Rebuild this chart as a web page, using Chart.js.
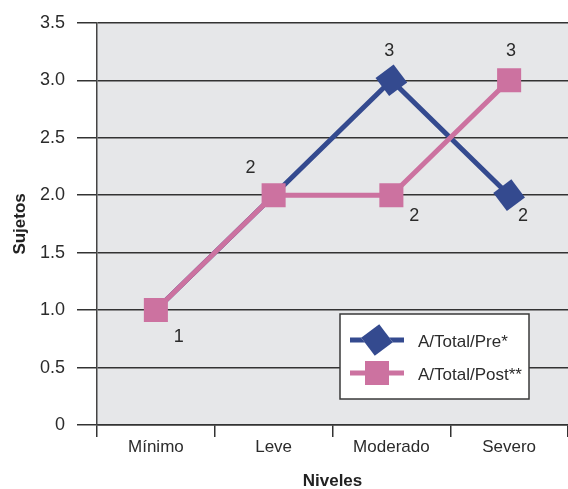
<!DOCTYPE html>
<html>
<head>
<meta charset="utf-8">
<style>
  html, body { margin: 0; padding: 0; background: #ffffff; }
  #wrap { width: 568px; height: 489px; position: relative; }
</style>
<script src="https://cdn.jsdelivr.net/npm/chart.js@4.4.1/dist/chart.umd.min.js"></script>
</head>
<body>
<div id="wrap"><canvas id="chart" width="568" height="489"></canvas></div>
<script>
// Subjects per severity level, before and after
const categories = ['Mínimo', 'Leve', 'Moderado', 'Severo'];
const preValues = [1, 2, 3, 2];
const postValues = [1, 2, 2, 3];
const seriesNames = ['A/Total/Pre*', 'A/Total/Post**'];
const yTickLabels = ['0', '0.5', '1.0', '1.5', '2.0', '2.5', '3.0', '3.5'];

// Value label placement (pixel offsets from each point; null = no label)
const preLabelOffsets = [[23, 27], [-23, -27], [-2, -29], [14, 21]];
const postLabelOffsets = [null, null, [23, 21], [2, -29]];

const FONT = "'Liberation Sans', Arial, sans-serif";
const BLUE = '#344a8f';
const PINK = '#cc72a0';
const INK = '#2b2b2b';
const GRID = '#333333';
const DIAMOND_R = 16;
const SQUARE_R = 17;

const plotBackground = {
  id: 'plotBackground',
  beforeDraw(chart) {
    const { ctx, chartArea: a } = chart;
    ctx.save();
    ctx.fillStyle = '#e6e7e9';
    ctx.fillRect(a.left, a.top, a.right - a.left, a.bottom - a.top);
    ctx.restore();
  }
};

const valueLabels = {
  id: 'valueLabels',
  afterDatasetsDraw(chart) {
    const { ctx } = chart;
    const offsets = [preLabelOffsets, postLabelOffsets];
    ctx.save();
    ctx.font = '18px ' + FONT;
    ctx.fillStyle = INK;
    ctx.textAlign = 'center';
    ctx.textBaseline = 'middle';
    chart.data.datasets.forEach((ds, di) => {
      const meta = chart.getDatasetMeta(di);
      meta.data.forEach((pt, i) => {
        const off = offsets[di][i];
        if (!off) return;
        ctx.fillText(String(ds.data[i]), pt.x + off[0], pt.y + off[1]);
      });
    });
    ctx.restore();
  }
};

const legendMarkers = [
  { style: 'rectRot', radius: DIAMOND_R, rotation: 8 },
  { style: 'rect', radius: SQUARE_R, rotation: 0 }
];

const boxedLegend = {
  id: 'boxedLegend',
  afterDraw(chart) {
    const { ctx, chartArea: a } = chart;
    const w = 189, h = 85;
    const x = a.right - 39 - w;
    const y = a.bottom - 26 - h;
    ctx.save();
    ctx.fillStyle = '#ffffff';
    ctx.fillRect(x, y, w, h);
    ctx.strokeStyle = '#3a3a3a';
    ctx.lineWidth = 1.5;
    ctx.strokeRect(x, y, w, h);
    const rows = [y + 26, y + 59];
    chart.data.datasets.forEach((ds, di) => {
      const cy = rows[di];
      const lx = x + 10, lw = 54, cx = lx + lw / 2;
      const m = legendMarkers[di];
      ctx.strokeStyle = ds.borderColor;
      ctx.lineWidth = ds.borderWidth;
      ctx.beginPath();
      ctx.moveTo(lx, cy);
      ctx.lineTo(lx + lw, cy);
      ctx.stroke();
      Chart.helpers.drawPoint(ctx, {
        pointStyle: m.style,
        radius: m.radius,
        rotation: m.rotation,
        borderWidth: 0
      }, cx, cy);
      ctx.fillStyle = ds.backgroundColor;
      ctx.fill();
      ctx.fillStyle = INK;
      ctx.font = '17px ' + FONT;
      ctx.textAlign = 'left';
      ctx.textBaseline = 'middle';
      ctx.fillText(seriesNames[di], x + 78, cy + 2);
    });
    ctx.restore();
  }
};

new Chart(document.getElementById('chart'), {
  type: 'line',
  data: {
    labels: categories,
    datasets: [
      {
        label: seriesNames[0],
        data: preValues,
        borderColor: BLUE,
        backgroundColor: BLUE,
        borderWidth: 5,
        pointStyle: 'rectRot',
        // where both series share a value the square sits on top, so the diamond is left out
        pointRadius: (c) => (preValues[c.dataIndex] === postValues[c.dataIndex] ? 0 : DIAMOND_R),
        pointRotation: 8,
        pointBorderWidth: 0,
        order: 2
      },
      {
        label: seriesNames[1],
        data: postValues,
        borderColor: PINK,
        backgroundColor: PINK,
        borderWidth: 5,
        pointStyle: 'rect',
        pointRadius: SQUARE_R,
        pointBorderWidth: 0,
        order: 1
      }
    ]
  },
  options: {
    responsive: false,
    animation: false,
    events: [],
    layout: { autoPadding: false, padding: { top: 20, right: 0, left: 0, bottom: 0 } },
    plugins: {
      legend: { display: false },
      tooltip: { enabled: false }
    },
    scales: {
      x: {
        offset: true,
        grid: {
          offset: true,
          drawOnChartArea: false,
          drawTicks: true,
          tickLength: 12,
          color: GRID,
          lineWidth: 1.5
        },
        border: { display: true, color: GRID, width: 1.5 },
        ticks: {
          color: INK,
          padding: 0,
          font: { family: FONT, size: 17 },
          maxRotation: 0
        },
        title: {
          display: true,
          text: 'Niveles',
          color: '#222',
          font: { family: FONT, size: 17, weight: 'bold' },
          padding: { top: 0, bottom: -3 }
        },
        afterFit(scale) {
          scale.height = 64;
          scale.paddingLeft = 0;
          scale.paddingRight = 0;
        }
      },
      y: {
        min: 0,
        max: 3.5,
        grid: {
          color: GRID,
          lineWidth: 1.5,
          drawTicks: true,
          tickLength: 20
        },
        border: { display: true, color: '#444', width: 1.5 },
        ticks: {
          stepSize: 0.5,
          color: INK,
          padding: 12,
          font: { family: FONT, size: 18 },
          callback: (v, i) => yTickLabels[i]
        },
        title: {
          display: true,
          text: 'Sujetos',
          color: '#222',
          font: { family: FONT, size: 17, weight: 'bold' },
          padding: { top: 10, bottom: 0 }
        },
        afterFit(scale) { scale.width = 97; }
      }
    }
  },
  plugins: [plotBackground, valueLabels, boxedLegend]
});
</script>
</body>
</html>
